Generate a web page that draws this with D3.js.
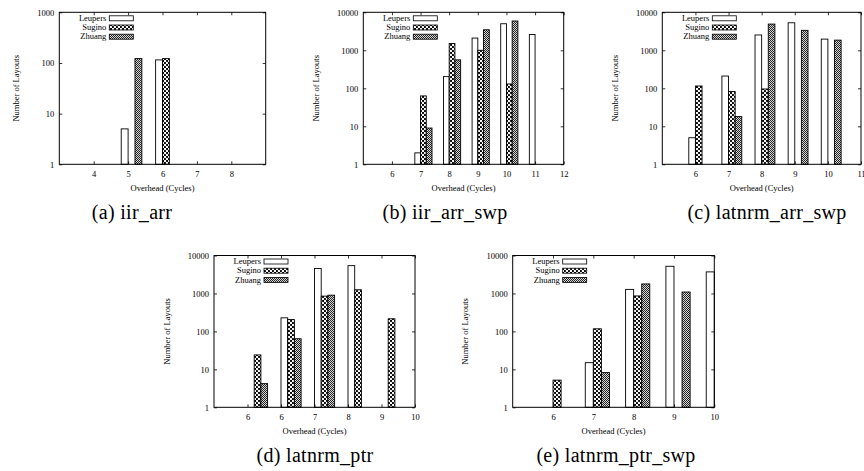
<!DOCTYPE html>
<html><head><meta charset="utf-8">
<script src="https://cdn.jsdelivr.net/npm/d3@7"></script>
<style>
html,body{margin:0;padding:0;background:#fff;}
svg{display:block;}
</style></head>
<body>
<svg id="chart" width="864" height="471"></svg>
<script>
// ---------- data ----------
const seriesNames = ["Leupers", "Sugino", "Zhuang"];

// (a) iir_arr
const aCycles  = [5, 6];
const aLeupers = [5, 115];
const aSugino  = [null, 122];
const aZhuang  = [122, null];
const aTicks   = [4, 5, 6, 7, 8];
const aTickLabels = ["4", "5", "6", "7", "8"];

// (b) iir_arr_swp
const bCycles  = [7, 8, 9, 10, 11];
const bLeupers = [2, 203, 2100, 5000, 2600];
const bSugino  = [63, 1510, 1000, 130, null];
const bZhuang  = [9, 560, 3470, 5900, null];
const bTicks   = [6, 7, 8, 9, 10, 11, 12];
const bTickLabels = ["6", "7", "8", "9", "10", "11", "12"];

// (c) latnrm_arr_swp
const cCycles  = [6, 7, 8, 9, 10];
const cLeupers = [5, 210, 2530, 5300, 1970];
const cSugino  = [115, 82, 96, null, null];
const cZhuang  = [null, 18, 4900, 3350, 1850];
const cTicks   = [6, 7, 8, 9, 10, 11];
const cTickLabels = ["6", "7", "8", "9", "10", "11"];

// (d) latnrm_ptr
const dCycles  = [5, 6, 7, 8, 9];
const dLeupers = [null, 228, 4550, 5400, null];
const dSugino  = [24, 205, 850, 1250, 215];
const dZhuang  = [4.2, 64, 900, null, null];
const dTicks   = [5, 6, 7, 8, 9, 10];
const dTickLabels = ["6", "6", "7", "8", "9", "10"];

// (e) latnrm_ptr_swp
const eCycles  = [6, 7, 8, 9, 10];
const eLeupers = [null, 15, 1280, 5200, 3700];
const eSugino  = [5.2, 117, 860, null, null];
const eZhuang  = [null, 8.2, 1780, 1090, null];
const eTicks   = [6, 7, 8, 9, 10];
const eTickLabels = ["6", "7", "8", "9", "10"];

const yTicks3 = [1, 10, 100, 1000];
const yTicks4 = [1, 10, 100, 1000, 10000];
const captions = ["(a) iir_arr", "(b) iir_arr_swp", "(c) latnrm_arr_swp", "(d) latnrm_ptr", "(e) latnrm_ptr_swp"];
const xTitle = "Overhead (Cycles)";
const yTitle = "Number of Layouts";

// ---------- layout ----------
const FONT = "'Liberation Serif', 'DejaVu Serif', serif";
const panels = [
  {cycles:aCycles, values:[aLeupers,aSugino,aZhuang], ticks:aTicks, tickLabels:aTickLabels,
   xDomain:[3,9], yDomain:[1,1000], yTicks:yTicks3, shift:-0.2,
   left:59.3, right:265.7, top:12.3, bottom:164.3, cap:captions[0], capX:132, capY:219},
  {cycles:bCycles, values:[bLeupers,bSugino,bZhuang], ticks:bTicks, tickLabels:bTickLabels,
   xDomain:[5,12], yDomain:[1,10000], yTicks:yTicks4, shift:-0.2,
   left:363.3, right:563.7, top:12.3, bottom:164.3, cap:captions[1], capX:445, capY:219},
  {cycles:cCycles, values:[cLeupers,cSugino,cZhuang], ticks:cTicks, tickLabels:cTickLabels,
   xDomain:[5,11], yDomain:[1,10000], yTicks:yTicks4, shift:-0.2,
   left:662.3, right:861, top:12.3, bottom:164.3, cap:captions[2], capX:767, capY:219},
  {cycles:dCycles, values:[dLeupers,dSugino,dZhuang], ticks:dTicks, tickLabels:dTickLabels,
   xDomain:[4,10], yDomain:[1,10000], yTicks:yTicks4, shift:0,
   left:214, right:415, top:255.5, bottom:407.3, cap:captions[3], capX:315, capY:462},
  {cycles:eCycles, values:[eLeupers,eSugino,eZhuang], ticks:eTicks, tickLabels:eTickLabels,
   xDomain:[5,10], yDomain:[1,10000], yTicks:yTicks4, shift:-0.2,
   left:512.7, right:714.3, top:255.5, bottom:407.3, cap:captions[4], capX:616, capY:462}
];

const svg = d3.select("#chart");
svg.append("rect").attr("width",864).attr("height",471).attr("fill","#fff");
const defs = svg.append("defs");
const pS = defs.append("pattern").attr("id","pSug").attr("width",4).attr("height",4).attr("patternUnits","userSpaceOnUse");
pS.append("rect").attr("width",4).attr("height",4).attr("fill","#000");
pS.append("circle").attr("cx",1).attr("cy",1).attr("r",1.2).attr("fill","#fff");
pS.append("circle").attr("cx",3).attr("cy",3).attr("r",1.2).attr("fill","#fff");
const pZ = defs.append("pattern").attr("id","pZh").attr("width",2).attr("height",2).attr("patternUnits","userSpaceOnUse");
pZ.append("rect").attr("width",2).attr("height",2).attr("fill","#d8d8d8");
pZ.append("rect").attr("width",1).attr("height",1).attr("fill","#222");
pZ.append("rect").attr("x",1).attr("y",1).attr("width",1).attr("height",1).attr("fill","#222");
const fills = ["#fff", "url(#pSug)", "url(#pZh)"];
const barW = 0.2;
const fs = 8.5;

panels.forEach(p => {
  const x = d3.scaleLinear().domain(p.xDomain).range([p.left, p.right]);
  const y = d3.scaleLog().domain(p.yDomain).range([p.bottom, p.top]);
  const g = svg.append("g");

  // bars
  p.values.forEach((vals, i) => {
    g.append("g").selectAll("rect")
      .data(p.cycles.map((c, j) => ({c, v: vals[j]})).filter(d => d.v != null))
      .join("rect")
      .attr("x", d => x(d.c + p.shift + i*barW))
      .attr("width", d => x(d.c + p.shift + (i+1)*barW) - x(d.c + p.shift + i*barW))
      .attr("y", d => y(d.v))
      .attr("height", d => y(p.yDomain[0]) - y(d.v))
      .attr("fill", fills[i])
      .attr("stroke", "#000").attr("stroke-width", 0.9);
  });

  // axes
  const fmtX = (d, k) => p.tickLabels[k];
  const ax = [
    g.append("g").attr("transform", `translate(0,${p.bottom})`)
      .call(d3.axisBottom(x).tickValues(p.ticks).tickFormat(fmtX).tickSize(-3).tickPadding(7)),
    g.append("g").attr("transform", `translate(0,${p.top})`)
      .call(d3.axisTop(x).tickValues(p.ticks).tickFormat("").tickSize(-3)),
    g.append("g").attr("transform", `translate(${p.left},0)`)
      .call(d3.axisLeft(y).tickValues(p.yTicks).tickFormat(d3.format("d")).tickSize(-3).tickPadding(5)),
    g.append("g").attr("transform", `translate(${p.right},0)`)
      .call(d3.axisRight(y).tickValues(p.yTicks).tickFormat("").tickSize(-3))
  ];
  ax.forEach(a => {
    a.select(".domain").remove();
    a.selectAll("line").attr("stroke","#000").attr("stroke-width",0.8);
    a.selectAll("text").attr("font-family",FONT).attr("font-size",fs).attr("fill","#000");
  });

  // frame
  g.append("rect").attr("x",p.left).attr("y",p.top)
    .attr("width",p.right-p.left).attr("height",p.bottom-p.top)
    .attr("fill","none").attr("stroke","#000").attr("stroke-width",1);

  // titles
  const digits = String(p.yDomain[1]).length;
  const ty = (p.top + p.bottom)/2;
  const tx = p.left - 27 - 4*digits;
  g.append("text").attr("transform", `translate(${tx},${ty}) rotate(-90)`)
    .attr("text-anchor","middle").attr("dy","0.32em")
    .attr("font-family",FONT).attr("font-size",fs).text(yTitle);
  g.append("text").attr("x",(p.left+p.right)/2).attr("y",p.bottom+27)
    .attr("text-anchor","middle").attr("font-family",FONT).attr("font-size",fs).text(xTitle);

  // legend
  seriesNames.forEach((s, i) => {
    const ry = p.top + 6 + i*9.2;
    g.append("text").attr("x",p.left+47).attr("y",ry).attr("dy","0.32em")
      .attr("text-anchor","end").attr("font-family",FONT).attr("font-size",fs).text(s);
    g.append("rect").attr("x",p.left+50).attr("y",ry-2.5).attr("width",24).attr("height",5)
      .attr("fill",fills[i]).attr("stroke","#000").attr("stroke-width",0.8);
  });

  // caption
  svg.append("text").attr("x",p.capX).attr("y",p.capY).attr("text-anchor","middle")
    .attr("font-family",FONT).attr("font-size",20).attr("letter-spacing",0.3).text(p.cap);
});
</script>
</body></html>
